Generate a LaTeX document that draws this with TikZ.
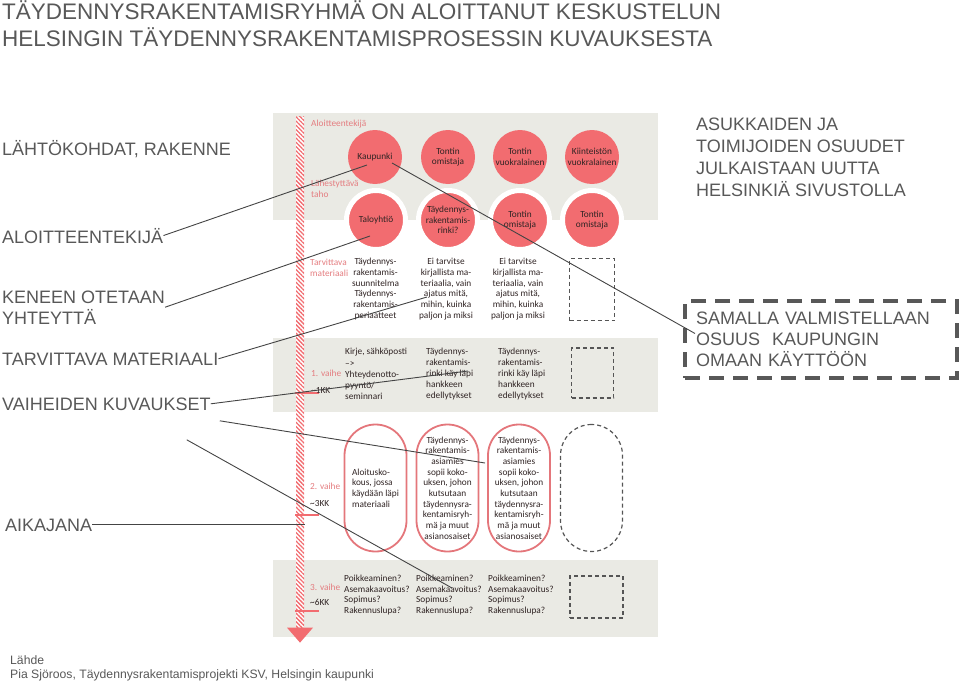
\documentclass[tikz,border=0pt]{standalone}
\usepackage{fontspec}
\setmainfont{Liberation Sans}
\newfontfamily\carlito{Carlito}
\usepackage{tikz}
\usetikzlibrary{patterns.meta}
\definecolor{panelgray}{RGB}{234,234,228}
\definecolor{salmon}{RGB}{242,108,112}
\definecolor{pillred}{RGB}{228,118,123}
\definecolor{redtxt}{RGB}{228,125,128}
\definecolor{captxt}{RGB}{88,88,88}
\definecolor{bodytxt}{RGB}{48,36,36}
\definecolor{wirecol}{RGB}{68,68,68}
\definecolor{ghostcol}{RGB}{85,85,85}

\begin{document}
\begin{tikzpicture}[x=1pt, y=-1pt,
  bigtxt/.style={font=\fontsize{18}{22}\selectfont, text=captxt, inner sep=0pt, anchor=base west, align=left},
  txt/.style={font=\carlito\fontsize{9.3}{10.7}\selectfont, text=bodytxt, inner sep=0pt, align=center},
  lbl/.style={txt, text=redtxt, align=left, anchor=west},
  disc/.style={txt, circle, fill=salmon, minimum size=54pt},
  ring/.style={disc, draw=white, line width=5pt, minimum size=59pt},
  pill/.style={txt, draw=pillred, line width=1.8pt, rounded corners=31pt, minimum width=62pt, minimum height=127pt},
  ghost/.style={draw=ghostcol, line width=1.2pt, dash pattern=on 4pt off 3pt, inner sep=0pt},
  tick/.style={draw=salmon, line width=2pt},
  wire/.style={draw=wirecol, line width=0.9pt}]
\useasboundingbox (0,0) rectangle (960,682);
\fill[panelgray] (273,113) rectangle (658,220);
\fill[panelgray] (273,338) rectangle (658,412);
\fill[panelgray] (273,560) rectangle (658,637);
\node[inner sep=0pt, minimum width=8pt, minimum height=510pt, preaction={fill=white},
  pattern={Lines[angle=-45,distance=3pt,line width=1.3pt]}, pattern color=salmon] (tline) at (300,372) {};
\fill[salmon] ([xshift=-13pt]tline.south) -- ([xshift=13pt]tline.south) -- ([yshift=-15pt]tline.south) -- cycle;
\draw[tick] (tline.west |- 0,393) -- ++(24,0);
\draw[tick] (tline.west |- 0,515) -- ++(24,0);
\draw[tick] (tline.west |- 0,611) -- ++(24,0);
\node[disc] (kaup)   at (375,157) {Kaupunki};
\node[disc] (omist1) at (448,157) {Tontin\\omistaja};
\node[disc] (vuokr)  at (520,157) {Tontin\\vuokralainen};
\node[disc] (kiint)  at (592,157) {Kiinteistön\\vuokralainen};
\node[ring] (talo)   at (376,220) {Taloyhtiö};
\node[ring] (rinki)  at (448,220) {Täydennys-\\rakentamis-\\rinki?};
\node[ring] (omist2) at (520,220) {Tontin\\omistaja};
\node[ring] (omist3) at (592,220) {Tontin\\omistaja};
\node[lbl] (aloitl) at (311,124) {Aloitteentekijä};
\node[lbl] (lahes)  at (311,189) {Lähestyttävä\\taho};
\node[lbl] (tarvl)  at (310,268) {Tarvittava\\materiaali};
\node[lbl] (vaihe1) at (311,373) {1. vaihe};
\node[txt, anchor=west] (kk1) at (311,391) {\textasciitilde1KK};
\node[lbl] (vaihe2) at (310,486) {2. vaihe};
\node[txt, anchor=west] (kk3) at (310,504) {\textasciitilde3KK};
\node[lbl] (vaihe3) at (310,587) {3. vaihe};
\node[txt, anchor=west] (kk6) at (310,602) {\textasciitilde6KK};
\node[txt] (mat1) at (375.5,289) {Täydennys-\\rakentamis-\\suunnitelma\\Täydennys-\\rakentamis-\\periaatteet};
\node[txt] (mat2) at (446,289) {Ei tarvitse\\kirjallista ma-\\teriaalia, vain\\ajatus mitä,\\mihin, kuinka\\paljon ja miksi};
\node[txt] (mat3) at (518,289) {Ei tarvitse\\kirjallista ma-\\teriaalia, vain\\ajatus mitä,\\mihin, kuinka\\paljon ja miksi};
\node[ghost, minimum width=45pt, minimum height=62pt] (mat4) at (592,289.5) {};
\node[txt, align=left, anchor=west, font=\carlito\fontsize{9.3}{11.1}\selectfont] (ph1a) at (345,374) {Kirje, sähköposti\\–>\\Yhteydenotto-\\pyyntö/\\seminnari};
\node[txt, align=left, anchor=west, font=\carlito\fontsize{9.3}{11.1}\selectfont] (ph1b) at (426,374) {Täydennys-\\rakentamis-\\rinki käy läpi\\hankkeen\\edellytykset};
\node[txt, align=left, anchor=west, font=\carlito\fontsize{9.3}{11.1}\selectfont] (ph1c) at (498,374) {Täydennys-\\rakentamis-\\rinki käy läpi\\hankkeen\\edellytykset};
\node[ghost, minimum width=42pt, minimum height=50pt] (ph1d) at (592.5,373) {};
\node[pill, align=left] (ph2a) at (375.5,488) {Aloitusko-\\kous, jossa\\käydään läpi\\materiaali};
\node[pill] (ph2b) at (447.5,488) {Täydennys-\\rakentamis-\\asiamies\\sopii koko-\\uksen, johon\\kutsutaan\\täydennysra-\\kentamisryh-\\mä ja muut\\asianosaiset};
\node[pill] (ph2c) at (519,488) {Täydennys-\\rakentamis-\\asiamies\\sopii koko-\\uksen, johon\\kutsutaan\\täydennysra-\\kentamisryh-\\mä ja muut\\asianosaiset};
\node[ghost, rounded corners=31pt, minimum width=62pt, minimum height=127pt] (ph2d) at (591.5,488) {};
\node[txt, align=left, anchor=west] (ph3a) at (344,595) {Poikkeaminen?\\Asemakaavoitus?\\Sopimus?\\Rakennuslupa?};
\node[txt, align=left, anchor=west] (ph3b) at (416,595) {Poikkeaminen?\\Asemakaavoitus?\\Sopimus?\\Rakennuslupa?};
\node[txt, align=left, anchor=west] (ph3c) at (488,595) {Poikkeaminen?\\Asemakaavoitus?\\Sopimus?\\Rakennuslupa?};
\node[ghost, minimum width=53pt, minimum height=42pt] (ph3d) at (596.5,597) {};
\node[bigtxt, font=\fontsize{22.5}{27}\selectfont] (title) at (2,47) {TÄYDENNYSRAKENTAMISRYHMÄ ON ALOITTANUT KESKUSTELUN\\HELSINGIN TÄYDENNYSRAKENTAMISPROSESSIN KUVAUKSESTA};
\node[bigtxt] (lahto) at (2,155) {LÄHTÖKOHDAT, RAKENNE};
\node[bigtxt] (aloit) at (2,243) {ALOITTEENTEKIJÄ};
\node[bigtxt, font=\fontsize{18}{21}\selectfont] (keneen) at (2,324) {KENEEN OTETAAN\\YHTEYTTÄ};
\node[bigtxt] (tarv) at (2,365) {TARVITTAVA MATERIAALI};
\node[bigtxt] (vaih) at (2,410) {VAIHEIDEN KUVAUKSET};
\node[bigtxt] (aika) at (5,531) {AIKAJANA};
\node[bigtxt] (asuk) at (696,196) {ASUKKAIDEN JA\\TOIMIJOIDEN OSUUDET\\JULKAISTAAN UUTTA\\HELSINKIÄ SIVUSTOLLA};
\node[bigtxt, anchor=center, draw=captxt, line width=4pt, dash pattern=on 15pt off 9pt, inner xsep=11pt,
  text width=250pt, minimum height=77pt, font=\fontsize{18}{21}\selectfont] (varaus) at (821,339.5)
  {SAMALLA VALMISTELLAAN\\OSUUS\ \ KAUPUNGIN\\OMAAN KÄYTTÖÖN};
\node[bigtxt, font=\fontsize{12.2}{13.5}\selectfont] (lahde) at (10,678) {Lähde\\Pia Sjöroos, Täydennysrakentamisprojekti KSV, Helsingin kaupunki};
\draw[wire] (aloit.east) -- ([shift={(-8,8)}]kaup.center);
\draw[wire] (keneen.east) -- ([shift={(-6,16)}]talo.center);
\draw[wire] (tarv.east) -- ([shift={(-19,8)}]mat2.center);
\draw[wire] (vaih.east) -- ([shift={(42,-3)}]ph1b.west);
\draw[wire] ([shift={(17,6)}]kaup.center) -- ([shift={(12,-6)}]varaus.west);
\draw[wire] ([shift={(9,17)}]vaih.east) -- ([shift={(-34,-25)}]ph2c.center);
\draw[wire] ([shift={(-24,36)}]vaih.east) -- ([shift={(36,-7)}]ph3b.west);
\draw[wire] (aika.east) -- (tline.east |- aika.east);
\end{tikzpicture}
\end{document}
